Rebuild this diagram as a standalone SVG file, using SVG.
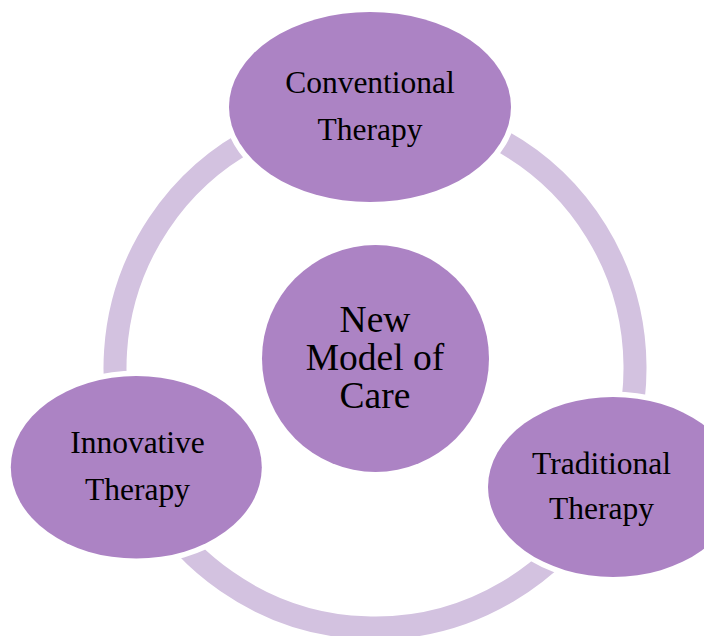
<svg xmlns="http://www.w3.org/2000/svg" width="704" height="636" viewBox="0 0 704 636">
  <style>
    .ring { fill: none; stroke: #D3C2E0; stroke-width: 23; }
    .node { fill: #AC83C4; stroke: #FFFFFF; stroke-width: 11; paint-order: stroke; }
    .label { font-family: "Liberation Serif", "Times New Roman", serif; font-size: 31.5px; fill: #000000; text-anchor: middle; }
    .core { font-size: 37.5px; }
  </style>
  <rect width="704" height="636" fill="#FFFFFF"/>

  <!-- cycle arcs joining the three outer nodes -->
  <g id="connectors">
    <path class="ring" d="M 375 108 A 260 260 0 0 1 607.5 484.4"/>
    <path class="ring" d="M 607.5 484.4 A 260 260 0 0 1 134.8 467.5"/>
    <path class="ring" d="M 134.8 467.5 A 260 260 0 0 1 375 108"/>
  </g>

  <g id="node-conventional">
    <ellipse class="node" cx="370" cy="107" rx="141" ry="95"/>
    <text class="label" x="370" y="93">Conventional</text>
    <text class="label" x="370" y="140">Therapy</text>
  </g>

  <g id="node-core">
    <circle class="node" cx="375.5" cy="358.5" r="113.5"/>
    <text class="label core" x="375" y="332">New</text>
    <text class="label core" x="375" y="370">Model of</text>
    <text class="label core" x="375" y="408">Care</text>
  </g>

  <g id="node-innovative">
    <ellipse class="node" cx="136.3" cy="467.3" rx="125.5" ry="91.3"/>
    <text class="label" x="137.5" y="453">Innovative</text>
    <text class="label" x="137.5" y="500">Therapy</text>
  </g>

  <g id="node-traditional">
    <ellipse class="node" cx="613" cy="487" rx="125" ry="90"/>
    <text class="label" x="601.5" y="473.5">Traditional</text>
    <text class="label" x="601.5" y="519">Therapy</text>
  </g>
</svg>
